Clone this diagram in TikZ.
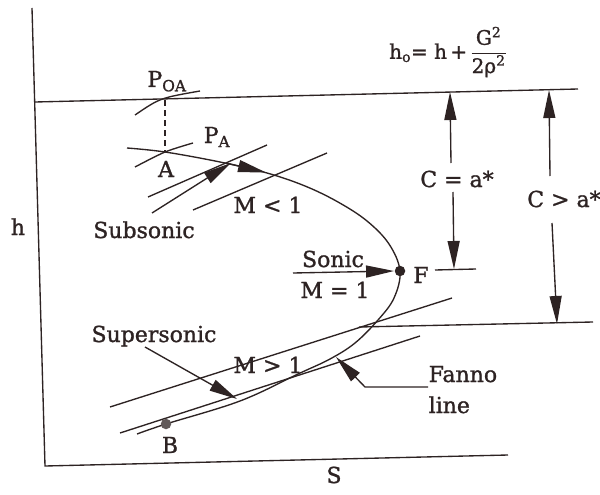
\documentclass[tikz,border=0pt]{standalone}
\usepackage{fontspec}
\setmainfont{DejaVu Serif}[FakeBold=1.2]
\usetikzlibrary{arrows.meta}
\definecolor{ink}{RGB}{45,35,35}
\begin{document}
\begin{tikzpicture}[x=1pt,y=-1pt,line width=1.35pt,draw=ink,
  lbl/.style={font=\fontsize{22}{26}\selectfont,text=ink,inner sep=0pt,anchor=base},
  arr/.style={-{Triangle[length=28pt,width=12pt]}},
  dotmark/.style={circle,fill=ink,inner sep=0pt,minimum size=10.5pt}]
\useasboundingbox (0,0) rectangle (600,495);
\fill[white] (0,0) rectangle (600,495);
% axes
\coordinate (ytop) at (32,8);
\coordinate (orig) at (45,466);
\coordinate (xend) at (508,455);
\draw (ytop) -- (orig) -- (xend);
% stagnation enthalpy line
\coordinate (t0) at (35,102);
\coordinate (t1) at (578,89);
\draw (t0) -- (t1);
% formula
\node[lbl,anchor=center,font=\fontsize{20}{24}\selectfont] (formula) at (448,52)
  {h\textsubscript{o}= h\,+\,$\displaystyle\frac{\mbox{G\textsuperscript{2}}}{\mbox{2ρ\textsuperscript{2}}}$};
% P_OA curve and dashed drop line
\coordinate (poa0) at (135,115);
\coordinate (poa1) at (200,91);
\coordinate (poapt) at (165,100);
\draw (poa0) .. controls (160,98) .. (poa1);
\coordinate (A) at (165,152);
\draw[dashed,dash pattern=on 6pt off 4pt] (poapt) -- (A);
\node[lbl] (poa) at (167,87) {P\textsubscript{OA}};
% P_A curve
\draw plot[smooth] coordinates {(135,167) (165,152) (193,143)};
\node[lbl] (pa) at (217,143) {P\textsubscript{A}};
\node[lbl] (alab) at (166,177) {A};
% subsonic lines
\coordinate (la0) at (148,197);
\coordinate (la1) at (267,145);
\draw (la0) -- (la1);
\coordinate (lb0) at (152,213);
\coordinate (lb1) at (231,163);
\draw[arr] (lb0) -- (lb1);
\coordinate (lc0) at (193,210);
\coordinate (lc1) at (327,153);
\draw (lc0) -- (lc1);
% Fanno line
\draw plot[smooth,tension=0.6] coordinates {(127,148) (165,152) (220,162) (267,173) (305,186) (338,202) (367,221) (389,244) (400,271) (394,298) (378,320) (355,343) (330,359) (298,374) (240,401) (166,424) (137,434)};
\coordinate (fa0) at (228,163.5);
\coordinate (fa1) at (266,172.5);
\draw[arr] (fa0) -- (fa1);
\node[lbl] (mlt) at (268,213) {M < 1};
\node[lbl] (sub) at (144,238) {Subsonic};
\node[lbl] (hlab) at (18,235) {h};
% sonic point
\node[dotmark] (F) at (400,271) {};
\coordinate (son0) at (293,273);
\draw[arr] (son0) -- (F.west);
\node[lbl] (sonic) at (333,267) {Sonic};
\node[lbl] (meq) at (335,298) {M = 1};
\node[lbl] (flab) at (421,283) {F};
\coordinate (fs0) at (435,270);
\coordinate (fs1) at (476,269);
\draw (fs0) -- (fs1);
% C = a* dimension
\node[lbl] (ceq) at (457,187) {C = a*};
\coordinate (c1a) at (451,163);
\coordinate (c1t) at (450,92);
\coordinate (c1b) at (453,192);
\coordinate (c1e) at (454,269);
\draw[arr] (c1a) -- (c1t);
\draw[arr] (c1b) -- (c1e);
% C > a* dimension
\node[lbl] (cgt) at (564,207) {C > a*};
\coordinate (c2a) at (550,176);
\coordinate (c2t) at (549,90);
\coordinate (c2b) at (552,223);
\coordinate (c2e) at (557,324);
\draw[arr] (c2a) -- (c2t);
\draw[arr] (c2b) -- (c2e);
\coordinate (hb0) at (359,327);
\coordinate (hb1) at (593,322);
\draw (hb0) -- (hb1);
% supersonic lines
\coordinate (ld0) at (110,407);
\coordinate (ld1) at (452,298);
\draw (ld0) -- (ld1);
\coordinate (le0) at (120,433);
\coordinate (le1) at (420,336);
\draw (le0) -- (le1);
\node[lbl] (sup) at (154,342) {Supersonic};
\coordinate (sa0) at (145,347);
\coordinate (sa1) at (237,399);
\draw[arr] (sa0) -- (sa1);
\node[lbl] (mgt) at (268,373) {M > 1};
% Fanno label
\node[lbl,anchor=base west] (fanno) at (428,382) {Fanno};
\node[lbl,anchor=base west] (fline) at (428,413) {line};
\coordinate (fl0) at (428,387);
\coordinate (fl1) at (365,387);
\coordinate (fl2) at (336,357);
\draw[arr] (fl0) -- (fl1) -- (fl2);
% point B
\node[dotmark,fill=ink!75] (B) at (166,424) {};
\node[lbl] (blab) at (170,453) {B};
\node[lbl] (slab) at (334,483) {S};
\end{tikzpicture}
\end{document}
